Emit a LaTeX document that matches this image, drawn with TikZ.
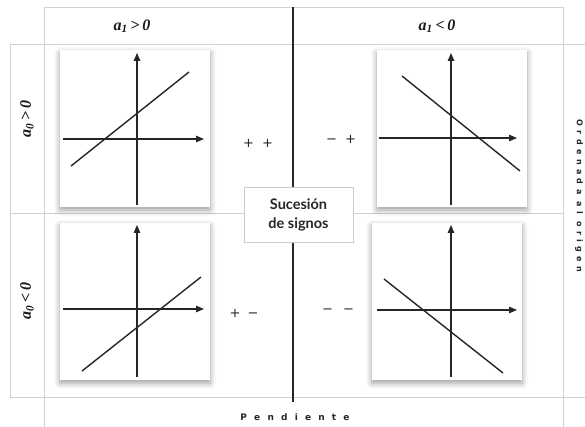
\documentclass[tikz,border=0pt]{standalone}
\usepackage{fontspec}
\setmainfont{Liberation Serif}
\setsansfont{Lato}
\newfontfamily\trackA[LetterSpace=55]{DejaVu Sans}
\newfontfamily\trackB[LetterSpace=80]{DejaVu Sans}
\newfontfamily\signfont{DejaVu Sans}
\usetikzlibrary{arrows.meta,shadows.blur}
\tikzset{
  grid/.style={draw=black!18, line width=0.9pt},
  divider/.style={draw=black!85, line width=1.8pt},
  panel/.style={fill=white, draw=none, inner sep=0pt, minimum width=150pt, minimum height=157pt,
    blur shadow={shadow xshift=0pt, shadow yshift=-3pt, shadow blur radius=6pt, shadow opacity=40}},
  axis/.style={draw=black!85, line width=1.1pt, -{Triangle[length=8pt,width=6.5pt]}},
  gline/.style={draw=black!85, line width=1.4pt},
  hdr/.style={font=\fontsize{16}{18}\selectfont\bfseries\itshape, inner sep=1pt, text=black!90},
  signs/.style={font=\signfont\fontsize{13}{15}\selectfont, inner sep=1pt, text=black!85},
  signbox/.style={fill=white, draw=black!20, line width=0.8pt, minimum width=109pt, minimum height=55pt,
    align=center, inner sep=2pt, font=\sffamily\bfseries\fontsize{14.5}{19}\selectfont, text=black!85},
}
\begin{document}
\begin{tikzpicture}[x=1pt,y=-1pt]
\useasboundingbox (0,0) rectangle (585,427);
% grid
\draw[grid] (10,44) -- (585,44);
\draw[grid] (10,397) -- (585,397);
\draw[grid] (10,44) -- (10,397);
\draw[grid] (44,7) -- (44,427);
\draw[grid] (563,7) -- (563,427);
\draw[grid] (44,7) -- (563,7);
\draw[grid] (10,213) -- (563,213);
\draw[divider] (293,7) -- (293,402);
% panels
\node[panel] (tl) at (135,128.5) {};
\node[panel] (tr) at (452,128.5) {};
\node[panel] (bl) at (135,301.5) {};
\node[panel] (br) at (447,301.5) {};
% top-left
\draw[axis] (137,205) -- (137,53);
\draw[axis] (63,139) -- (204,139);
\draw[gline] (71,166) -- (189,72);
% top-right
\draw[axis] (451,205) -- (451,53);
\draw[axis] (379,138) -- (517,138);
\draw[gline] (402,76) -- (520,171);
% bottom-left
\draw[axis] (137,377) -- (137,225);
\draw[axis] (63,309) -- (204,309);
\draw[gline] (82,371) -- (201,277);
% bottom-right
\draw[axis] (451,377) -- (451,225);
\draw[axis] (377,310) -- (517,310);
\draw[gline] (384,279) -- (503,373);
% headers
\node[hdr] (h1) at (132,26) {a\textsubscript{1}\,>\,0};
\node[hdr] (h2) at (437,26) {a\textsubscript{1}\,<\,0};
\node[hdr, rotate=90] (v1) at (27,119) {a\textsubscript{0}\,>\,0};
\node[hdr, rotate=90] (v2) at (27,301) {a\textsubscript{0}\,<\,0};
\node[rotate=-90, font=\trackA\bfseries\fontsize{8}{9}\selectfont, text=black!85] (ord) at (579,196) {Ordenada al origen};
\node[font=\trackB\bfseries\fontsize{9}{10}\selectfont, text=black!85] (pen) at (295,417) {Pendiente};
% signs
\node[signs] (s1) at (258,143) {+\hspace{8pt}+};
\node[signs] (s2) at (341,139) {−\hspace{8pt}+};
\node[signs] (s3) at (244,313) {+\hspace{7pt}−};
\node[signs] (s4) at (338,311) {−\hspace{10pt}−};
% box
\node[signbox] (sb) at (298.5,214.5) {Sucesión\\de signos};
\end{tikzpicture}
\end{document}
